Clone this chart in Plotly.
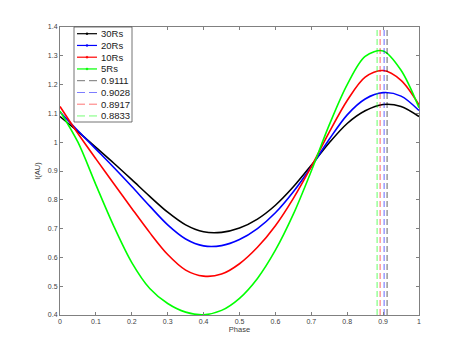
"""Phase curves I(AU) for several Rs, with peak-phase markers."""

import plotly.graph_objects as go

FONT = "Liberation Sans, Arial, Helvetica, sans-serif"
AXIS_GREY = "#808080"

# ── data ────────────────────────────────────────────────────
phase = [0.00, 0.05, 0.10, 0.15, 0.20, 0.25, 0.30, 0.35, 0.40, 0.45, 0.50,
         0.55, 0.60, 0.65, 0.70, 0.75, 0.80, 0.85, 0.90, 0.95, 1.00]

i_30rs = [1.089, 1.037, 0.982, 0.927, 0.870, 0.812, 0.757, 0.713, 0.689, 0.687, 0.702,
          0.733, 0.781, 0.845, 0.920, 0.998, 1.065, 1.109, 1.131, 1.124, 1.089]
i_20rs = [1.105, 1.040, 0.976, 0.912, 0.846, 0.778, 0.713, 0.664, 0.640, 0.641, 0.662,
          0.700, 0.755, 0.828, 0.915, 1.010, 1.095, 1.150, 1.172, 1.160, 1.110]
i_10rs = [1.124, 1.030, 0.942, 0.856, 0.770, 0.686, 0.610, 0.556, 0.535, 0.542, 0.578,
          0.635, 0.710, 0.805, 0.915, 1.035, 1.145, 1.226, 1.249, 1.215, 1.130]
i_5rs = [1.108, 1.000, 0.852, 0.708, 0.582, 0.492, 0.440, 0.410, 0.401, 0.416, 0.458,
         0.527, 0.625, 0.750, 0.900, 1.060, 1.200, 1.298, 1.317, 1.250, 1.120]

curve_names = ["30Rs", "20Rs", "10Rs", "5Rs"]
curves = [i_30rs, i_20rs, i_10rs, i_5rs]
colors = ["#000000", "#0000ff", "#ff0000", "#00ff00"]

peak_phases = [0.9111, 0.9028, 0.8917, 0.8833]
peak_names = ["0.9111", "0.9028", "0.8917", "0.8833"]

x_range = [0, 1]
y_range = [0.4, 1.4]
x_ticks = [0, 0.1, 0.2, 0.3, 0.4, 0.5, 0.6, 0.7, 0.8, 0.9, 1]
x_labels = ["0", "0.1", "0.2", "0.3", "0.4", "0.5", "0.6", "0.7", "0.8", "0.9", "1"]
y_ticks = [0.4, 0.5, 0.6, 0.7, 0.8, 0.9, 1.0, 1.1, 1.2, 1.3, 1.4]
y_labels = ["0.4", "0.5", "0.6", "0.7", "0.8", "0.9", "1", "1.1", "1.2", "1.3", "1.4"]

# ── figure ──────────────────────────────────────────────────
# page body has an 8px margin, so the figure is a bit smaller than the window
BODY = 8
W, H = 463 - 2 * BODY, 355 - 2 * BODY
ML, MR, MT, MB = 52, 36, 19, 32
PW, PH = W - ML - MR, H - MT - MB

fig = go.Figure()
for name, ys, c in zip(curve_names, curves, colors):
    fig.add_trace(go.Scatter(
        x=phase, y=ys, mode="lines", name=name, showlegend=False,
        line=dict(color=c, width=1.6, shape="spline", smoothing=0.9),
    ))
for name, xp, c in zip(peak_names, peak_phases, colors):
    fig.add_trace(go.Scatter(
        x=[xp, xp], y=y_range, mode="lines", name=name, showlegend=False,
        line=dict(color=c, width=0.8, dash="6px,3px"), opacity=0.75,
    ))

fig.update_layout(
    width=W, height=H,
    margin=dict(l=ML, r=MR, t=MT, b=MB),
    paper_bgcolor="white", plot_bgcolor="white",
    font=dict(family=FONT, size=7, color="#404040"),
)
axis_common = dict(
    showgrid=False, zeroline=False, showline=True, linecolor=AXIS_GREY, linewidth=1,
    mirror="ticks", ticks="inside", ticklen=3, tickcolor=AXIS_GREY, tickwidth=1,
    tickfont=dict(size=7, color="#404040"),
)
fig.update_xaxes(range=x_range, tickvals=x_ticks, ticktext=x_labels,
                 title=dict(text="Phase", font=dict(size=7.5, color="#404040"), standoff=2),
                 **axis_common)
fig.update_yaxes(range=y_range, tickvals=y_ticks, ticktext=y_labels,
                 title=dict(text="I(AU)", font=dict(size=7.5, color="#404040"), standoff=6),
                 **axis_common)


# ── hand-drawn legend (MATLAB-style compact box), window pixel coords ──
def fx(px):
    return (px - BODY - ML) / PW


def fy(py):
    return (BODY + H - MB - py) / PH


shapes = [dict(type="rect", xref="paper", yref="paper",
               x0=fx(74), x1=fx(132), y0=fy(122), y1=fy(27),
               line=dict(color="#505050", width=0.8), fillcolor="white", layer="above")]
annotations = []
entries = ([(n, c, "solid") for n, c in zip(curve_names, colors)]
           + [(n, c, "dash") for n, c in zip(peak_names, colors)])
for k, (label, c, style) in enumerate(entries):
    yc = 33.7 + k * 11.75
    shapes.append(dict(type="line", xref="paper", yref="paper",
                       x0=fx(77), x1=fx(97), y0=fy(yc), y1=fy(yc), layer="above",
                       line=dict(color=c, width=1.2 if style == "solid" else 0.9,
                                 dash="solid" if style == "solid" else "8px,4px"),
                       opacity=1 if style == "solid" else 0.6))
    if style == "solid":
        shapes.append(dict(type="circle", xref="paper", yref="paper",
                           x0=fx(86), x1=fx(88), y0=fy(yc + 1), y1=fy(yc - 1),
                           line=dict(color=c, width=0.5), fillcolor=c, layer="above"))
    annotations.append(dict(xref="paper", yref="paper", x=fx(98.5), y=fy(yc),
                            text=label, showarrow=False, xanchor="left", yanchor="middle",
                            font=dict(family=FONT, size=9.5, color="#1a1a1a")))

fig.update_layout(shapes=shapes, annotations=annotations)

fig.write_html("out.html")
